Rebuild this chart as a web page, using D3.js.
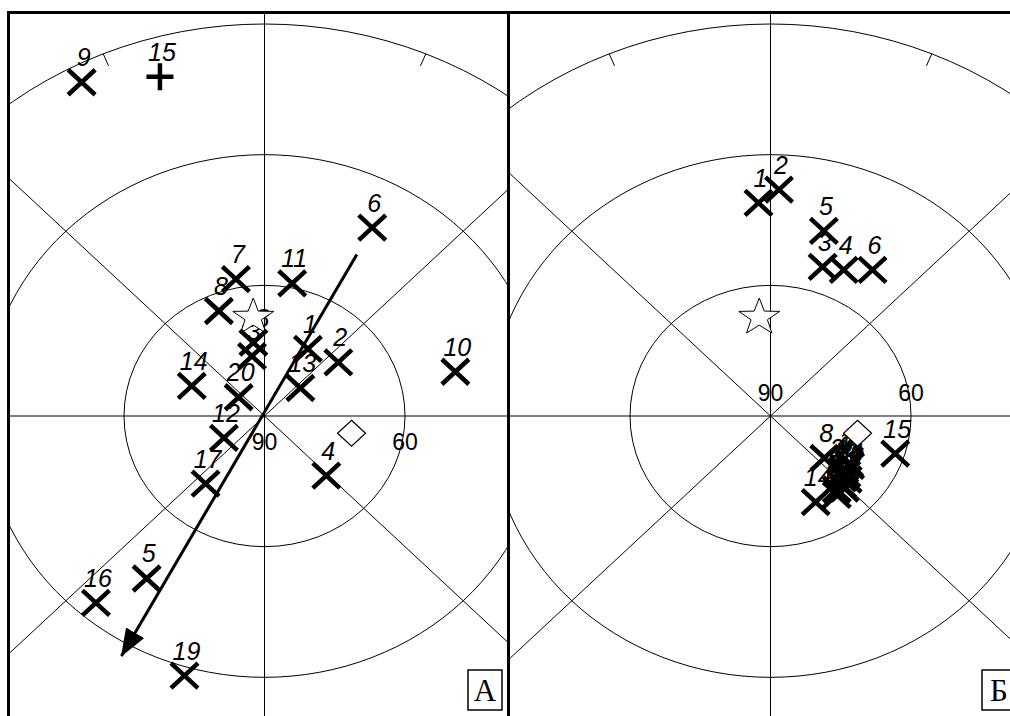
<!DOCTYPE html>
<html>
<head>
<meta charset="utf-8">
<script src="https://cdn.jsdelivr.net/npm/d3@7"></script>
<style>
  html, body { margin: 0; padding: 0; background: #fff; }
  svg { display: block; }
  .grid  { fill: none; stroke: #000; stroke-width: 1; }
  .lbl   { font-family: Arimo, "Liberation Sans", Arial, sans-serif; font-style: italic; font-size: 25px; }
  .scale { font-family: Arimo, "Liberation Sans", Arial, sans-serif; font-size: 23px; }
  .tag   { font-family: "Liberation Serif", "Times New Roman", serif; font-size: 31px; }
</style>
</head>
<body>
<svg id="viz" width="1010" height="716"></svg>
<script>
/* two polar (equidistant) plots, dip 90 at centre, 0 at rim */

const ringDips    = [60, 30, 0];
const gridAz      = [0, 45, 90, 135];
const tickAz      = [22.5, 67.5, 112.5, 157.5, 202.5, 247.5, 292.5, 337.5];
const scaleLabels = [["90", 0, 90], ["60", 90, 60]];   // text, az, dip

// [label, azimuth, dip]
const crossesA = [
  ["9", 333, 4], ["6", 28, 41], ["7", 349, 58], ["11", 11, 59], ["8", 338, 64],
  ["18", 352, 73], ["3", 349, 76], ["1", 31, 72], ["2", 52, 70], ["13", 50, 80],
  ["10", 76, 48], ["14", 294, 73], ["20", 308, 83], ["12", 240, 80], ["4", 136, 71],
  ["17", 219, 70], ["5", 214, 45], ["16", 220, 34], ["19", 196, 28]
];
const plusA = [["15", 344, 9]];
const arrowA = [[28, 48], [209, 27]];          // from, to  (az, dip)

const crossesB = [
  ["1", 357, 41], ["2", 2, 38], ["5", 15, 46], ["3", 18, 54], ["4", 25, 53],
  ["6", 33, 50], ["8", 130, 75], ["15", 108, 62], ["14", 154, 68],
  ["7", 123, 70], ["9", 128, 70], ["10", 133, 69], ["11", 136, 68],
  ["12", 124, 69.5], ["13", 129.5, 69], ["16", 140, 68], ["17", 136.5, 67],
  ["18", 142, 67], ["19", 131.5, 68], ["20", 130.5, 70]
];

const starPos    = [354, 67];    // same in both panels
const diamondPos = [102, 71];

/* -- layout ------------------------------------------------------------- */
const svg = d3.select("#viz");
const cy  = 416;
const rx  = d3.scaleLinear().domain([90, 0]).range([0, 421.5]);
const ry  = d3.scaleLinear().domain([90, 0]).range([0, 392]);

const panels = [
  { id: "A", x0: 8.5,   x1: 508.5, cx: 264.5, tag: "А", tagX: 468, scaleDy: 34,
    crosses: crossesA, plus: plusA, arrow: arrowA },
  { id: "B", x0: 508.5, x1: 1012,  cx: 770.5, tag: "Б", tagX: 982, scaleDy: -15,
    crosses: crossesB, plus: [], arrow: null }
];

const defs = svg.append("defs");
defs.append("marker")
    .attr("id", "head")
    .attr("markerUnits", "userSpaceOnUse")
    .attr("viewBox", "0 -11 28 22")
    .attr("refX", 27).attr("refY", 0)
    .attr("markerWidth", 28).attr("markerHeight", 22)
    .attr("orient", "auto")
  .append("path")
    .attr("d", "M0,-10.5L28,0L0,10.5Z")
    .attr("fill", "#000");

const crossPath = "M-13.5,-12.5L13.5,12.5M-13.5,12.5L13.5,-12.5";
const plusPath  = "M-13.5,0L13.5,0M0,-13.5L0,13.5";

function starPath(R, r, sy) {
  const pts = d3.range(10).map(i => {
    const a = -Math.PI / 2 + i * Math.PI / 5, rr = i % 2 ? r : R;
    return [rr * Math.cos(a), rr * Math.sin(a) * sy];
  });
  return "M" + pts.join("L") + "Z";
}

panels.forEach(p => {
  const project = (az, dip) => {
    const a = az * Math.PI / 180;
    return [p.cx + rx(dip) * Math.sin(a), cy - ry(dip) * Math.cos(a)];
  };

  defs.append("clipPath").attr("id", "clip" + p.id)
    .append("rect").attr("x", p.x0).attr("y", 12)
    .attr("width", p.x1 - p.x0).attr("height", 716);

  const g = svg.append("g").attr("clip-path", `url(#clip${p.id})`);

  /* rings */
  g.selectAll("ellipse").data(ringDips).enter().append("ellipse")
    .attr("class", "grid")
    .attr("cx", p.cx).attr("cy", cy)
    .attr("rx", d => rx(d)).attr("ry", d => ry(d));

  /* azimuth lines */
  g.selectAll("line.az").data(gridAz).enter().append("line")
    .attr("class", "grid az")
    .attr("x1", d => project(d, -90)[0]).attr("y1", d => project(d, -90)[1])
    .attr("x2", d => project(d + 180, -90)[0]).attr("y2", d => project(d + 180, -90)[1]);

  /* rim ticks */
  g.selectAll("line.tick").data(tickAz).enter().append("line")
    .attr("class", "grid tick")
    .attr("x1", d => project(d, 0)[0]).attr("y1", d => project(d, 0)[1])
    .attr("x2", d => project(d, 3)[0]).attr("y2", d => project(d, 3)[1]);

  /* 90 / 60 */
  g.selectAll("text.scale").data(scaleLabels).enter().append("text")
    .attr("class", "scale")
    .attr("text-anchor", "middle")
    .attr("x", d => project(d[1], d[2])[0])
    .attr("y", d => project(d[1], d[2])[1] + p.scaleDy)
    .text(d => d[0]);

  /* point labels */
  const allPts = p.crosses.concat(p.plus);
  g.selectAll("text.lbl").data(allPts).enter().append("text")
    .attr("class", "lbl")
    .attr("text-anchor", "middle")
    .attr("x", d => project(d[1], d[2])[0] + 2)
    .attr("y", d => project(d[1], d[2])[1] - 16)
    .text(d => d[0]);

  /* pole star */
  const sp = project(starPos[0], starPos[1]);
  g.append("path")
    .attr("d", starPath(21.5, 8.6, 0.9))
    .attr("transform", `translate(${sp[0]},${sp[1] + 1})`)
    .attr("fill", "#fff").attr("stroke", "#000").attr("stroke-width", 1);

  /* reference diamond */
  const dp = project(diamondPos[0], diamondPos[1]);
  g.append("path")
    .attr("d", "M0,-13L14,0L0,13L-14,0Z")
    .attr("transform", `translate(${dp[0]},${dp[1]})`)
    .attr("fill", "#fff").attr("stroke", "#000").attr("stroke-width", 1.2);

  /* markers */
  g.selectAll("path.cross").data(p.crosses).enter().append("path")
    .attr("class", "cross")
    .attr("d", crossPath)
    .attr("transform", d => `translate(${project(d[1], d[2])})`)
    .attr("fill", "none").attr("stroke", "#000").attr("stroke-width", 4.5);

  g.selectAll("path.plus").data(p.plus).enter().append("path")
    .attr("class", "plus")
    .attr("d", plusPath)
    .attr("transform", d => `translate(${project(d[1], d[2])})`)
    .attr("fill", "none").attr("stroke", "#000").attr("stroke-width", 4.5);

  /* mean direction arrow */
  if (p.arrow) {
    const a0 = project(p.arrow[0][0], p.arrow[0][1]);
    const a1 = project(p.arrow[1][0], p.arrow[1][1]);
    g.append("line")
      .attr("x1", a0[0]).attr("y1", a0[1])
      .attr("x2", a1[0]).attr("y2", a1[1])
      .attr("stroke", "#000").attr("stroke-width", 3)
      .attr("marker-end", "url(#head)");
  }

  /* panel tag box */
  svg.append("rect")
    .attr("x", p.tagX).attr("y", 670).attr("width", 34).attr("height", 40)
    .attr("fill", "#fff").attr("stroke", "#000").attr("stroke-width", 1.5);
  svg.append("text").attr("class", "tag")
    .attr("x", p.tagX + 17).attr("y", 701).attr("text-anchor", "middle")
    .text(p.tag);
});

/* frame */
svg.append("path")
  .attr("d", "M8.5,716V12.5H1012M508.5,12.5V716")
  .attr("fill", "none").attr("stroke", "#000").attr("stroke-width", 3);
</script>
</body>
</html>
